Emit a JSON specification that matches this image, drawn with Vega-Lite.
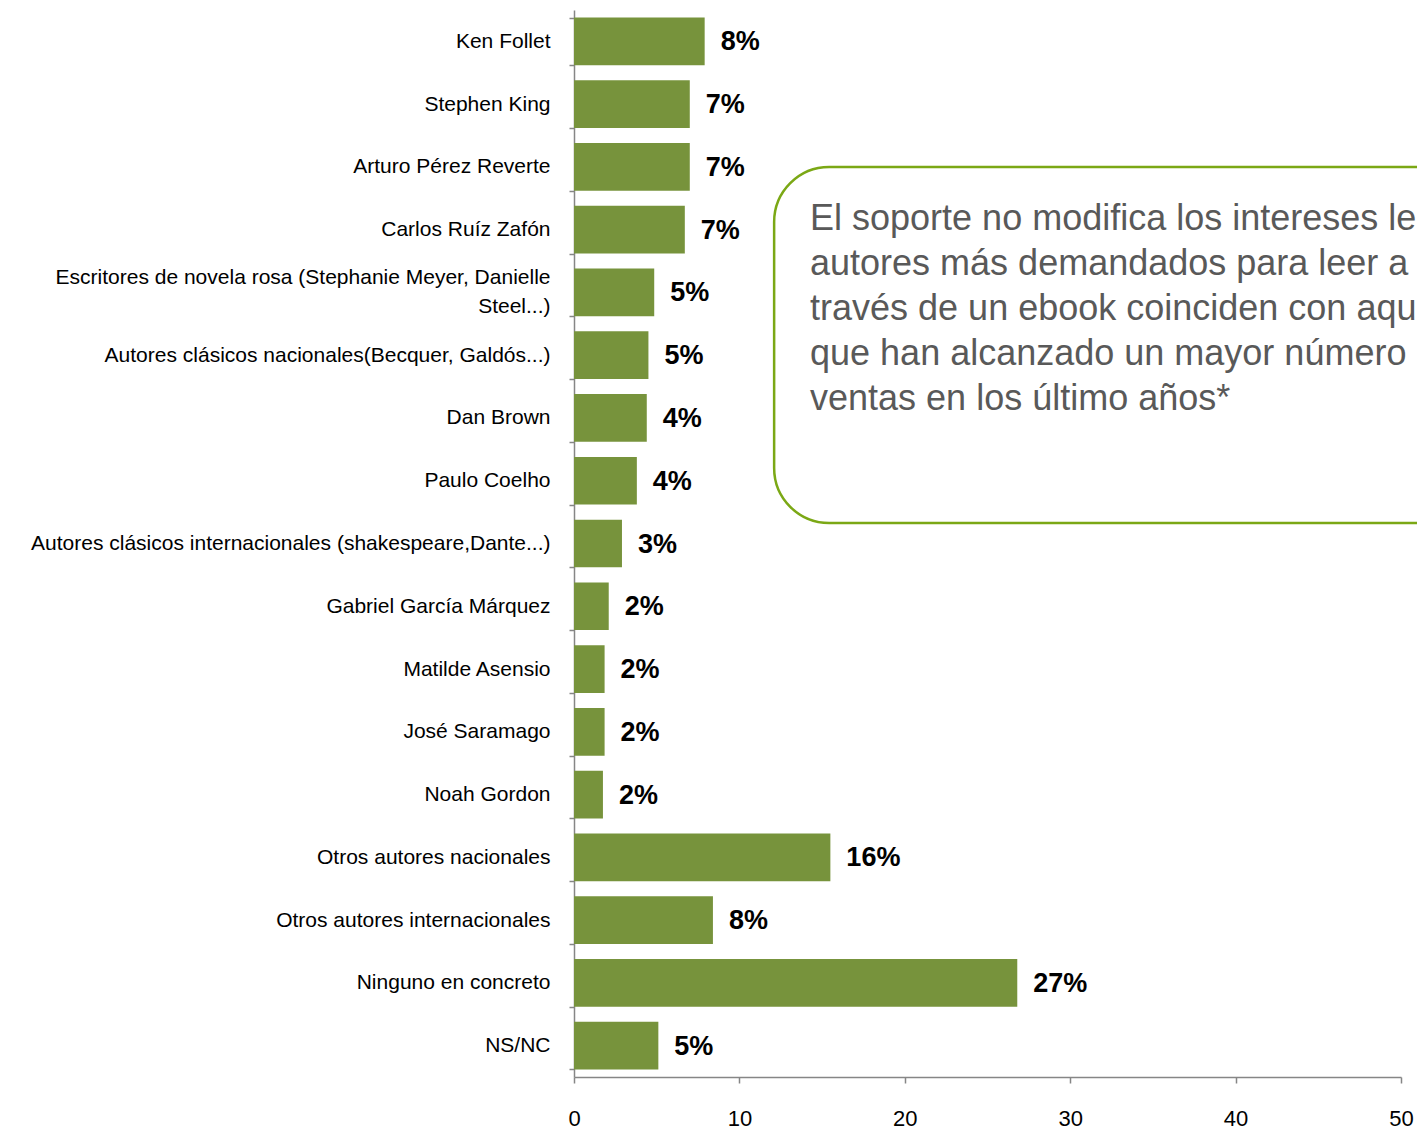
{
  "$schema": "https://vega.github.io/schema/vega-lite/v6.json",
  "width": 827,
  "height": 1067,
  "autosize": {"type": "none"},
  "padding": {"left": 574, "top": 10, "right": 16, "bottom": 52},
  "background": "white",
  "config": {"view": {"stroke": null}},
  "data": {
    "values": [
      {"author": "Ken Follet", "value": 7.9, "label": "8%"},
      {"author": "Stephen King", "value": 7.0, "label": "7%"},
      {"author": "Arturo Pérez Reverte", "value": 7.0, "label": "7%"},
      {"author": "Carlos Ruíz Zafón", "value": 6.7, "label": "7%"},
      {"author": "Escritores de novela rosa (Stephanie Meyer, Danielle Steel...)", "value": 4.85, "label": "5%"},
      {"author": "Autores clásicos nacionales(Becquer, Galdós...)", "value": 4.5, "label": "5%"},
      {"author": "Dan Brown", "value": 4.4, "label": "4%"},
      {"author": "Paulo Coelho", "value": 3.8, "label": "4%"},
      {"author": "Autores clásicos internacionales (shakespeare,Dante...)", "value": 2.9, "label": "3%"},
      {"author": "Gabriel García Márquez", "value": 2.1, "label": "2%"},
      {"author": "Matilde Asensio", "value": 1.85, "label": "2%"},
      {"author": "José Saramago", "value": 1.85, "label": "2%"},
      {"author": "Noah Gordon", "value": 1.75, "label": "2%"},
      {"author": "Otros autores nacionales", "value": 15.5, "label": "16%"},
      {"author": "Otros autores internacionales", "value": 8.4, "label": "8%"},
      {"author": "Ninguno en concreto", "value": 26.8, "label": "27%"},
      {"author": "NS/NC", "value": 5.1, "label": "5%"}
    ]
  },
  "layer": [
    {
      "mark": {"type": "bar", "color": "#77933C"},
      "encoding": {
        "y": {
          "field": "author",
          "type": "nominal",
          "sort": null,
          "scale": {"paddingInner": 0.24, "paddingOuter": 0.12},
          "axis": {
            "title": null,
            "domainColor": "#868686",
            "domainWidth": 1.5,
            "tickColor": "#868686",
            "tickWidth": 1.5,
            "tickSize": 5,
            "tickBand": "extent",
            "labelFont": "Liberation Sans",
            "labelFontSize": 21,
            "labelColor": "black",
            "labelPadding": 19,
            "labelLimit": 800,
            "labelLineHeight": 29,
            "labelOffset": {"condition": {"test": "datum.label == 'Escritores de novela rosa (Stephanie Meyer, Danielle Steel...)'", "value": -14.5}, "value": 0},
            "labelExpr": "datum.label == 'Escritores de novela rosa (Stephanie Meyer, Danielle Steel...)' ? ['Escritores de novela rosa (Stephanie Meyer, Danielle', 'Steel...)'] : datum.label"
          }
        },
        "x": {
          "field": "value",
          "type": "quantitative",
          "scale": {"domain": [0, 50]},
          "axis": {
            "title": null,
            "values": [0, 10, 20, 30, 40, 50],
            "grid": false,
            "labelFlush": false,
            "domainColor": "#868686",
            "domainWidth": 1.5,
            "tickColor": "#868686",
            "tickWidth": 1.5,
            "tickSize": 6,
            "labelFont": "Liberation Sans",
            "labelFontSize": 22,
            "labelColor": "black",
            "labelPadding": 25
          }
        }
      }
    },
    {
      "mark": {"type": "text", "align": "left", "baseline": "middle", "dx": 16, "dy": 1, "fontSize": 27, "fontWeight": "bold", "font": "Liberation Sans", "color": "black"},
      "encoding": {
        "y": {"field": "author", "type": "nominal", "sort": null},
        "x": {"field": "value", "type": "quantitative"},
        "text": {"field": "label"}
      }
    },
    {
      "data": {"values": [{}]},
      "mark": {"type": "rect", "cornerRadius": 55, "fill": "white", "stroke": "#7BA815", "strokeWidth": 2.5},
      "encoding": {
        "x": {"datum": 12.1},
        "x2": {"datum": 60},
        "y": {"datum": "Arturo Pérez Reverte", "type": "nominal", "bandPosition": 0.5},
        "y2": {"datum": "Autores clásicos internacionales (shakespeare,Dante...)", "bandPosition": 0.07}
      }
    },
    {
      "data": {"values": [{}]},
      "mark": {"type": "text", "align": "left", "baseline": "alphabetic", "fontSize": 36, "lineHeight": 45, "font": "Liberation Sans", "color": "#595959"},
      "encoding": {
        "x": {"datum": 14.27},
        "y": {"datum": "Carlos Ruíz Zafón", "type": "nominal"},
        "text": {"value": ["El soporte no modifica los intereses lectores: los", "autores más demandados para leer a", "través de un ebook coinciden con aquellos", "que han alcanzado un mayor número de", "ventas en los último años*"]}
      }
    }
  ]
}
